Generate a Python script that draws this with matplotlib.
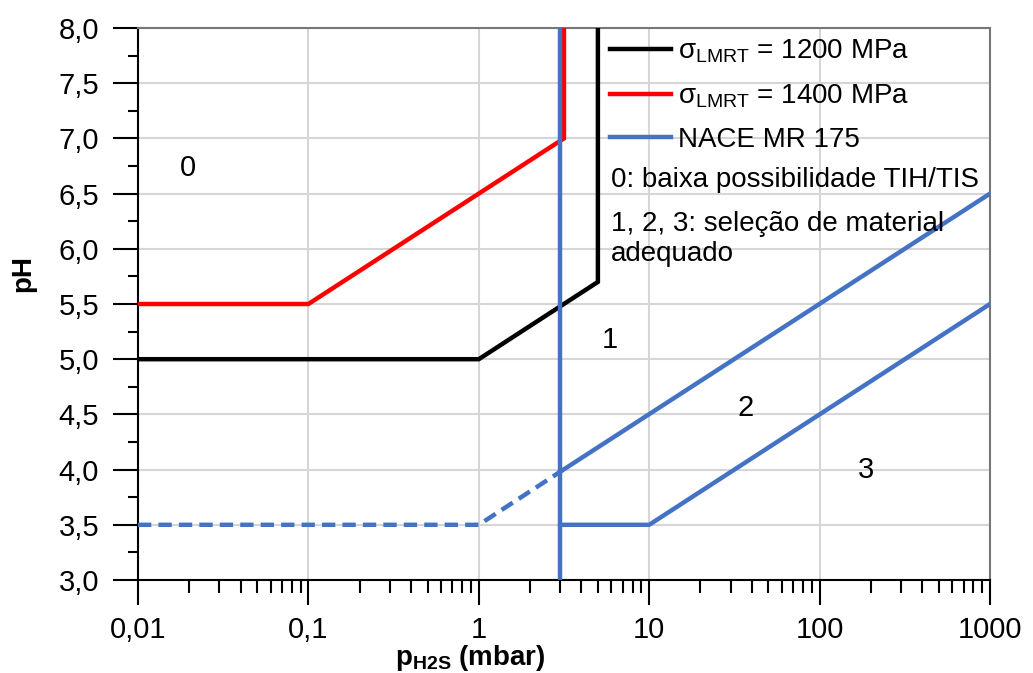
import matplotlib
matplotlib.use("Agg")
import matplotlib.pyplot as plt
from matplotlib.ticker import FixedLocator, LogLocator, NullFormatter, FixedFormatter

plt.rcParams['font.family'] = ['Liberation Sans', 'DejaVu Sans']
plt.rcParams['mathtext.fontset'] = 'custom'
plt.rcParams['mathtext.rm'] = 'Liberation Sans'
plt.rcParams['mathtext.it'] = 'Liberation Sans'
plt.rcParams['mathtext.bf'] = 'Liberation Sans:bold'

# ---- data ----
black_x = [0.01, 1, 5, 5]
black_y = [5.0, 5.0, 5.7, 8.0]
red_x = [0.01, 0.1, 3.16, 3.16]
red_y = [5.5, 5.5, 7.0, 8.0]
nace_vert_x = [3, 3]
nace_vert_y = [3.0, 8.0]
nace_upper_dash_x = [0.01, 1, 3]
nace_upper_dash_y = [3.5, 3.5, 3.98]
nace_upper_x = [3, 1000]
nace_upper_y = [3.98, 6.5]
nace_lower_x = [3, 10, 1000]
nace_lower_y = [3.5, 3.5, 5.5]

region_labels = ["0", "1", "2", "3"]
region_x = [0.0196, 5.9, 36.6, 187]
region_y = [6.73, 5.17, 4.56, 4.0]

xticks = [0.01, 0.1, 1, 10, 100, 1000]
xticklabels = ["0,01", "0,1", "1", "10", "100", "1000"]
yticks = [3.0, 3.5, 4.0, 4.5, 5.0, 5.5, 6.0, 6.5, 7.0, 7.5, 8.0]
yticklabels = ["3,0", "3,5", "4,0", "4,5", "5,0", "5,5", "6,0", "6,5", "7,0", "7,5", "8,0"]
yminor = [3.25, 3.75, 4.25, 4.75, 5.25, 5.75, 6.25, 6.75, 7.25, 7.75]

legend_labels = ["σ$_{\\mathrm{LMRT}}$ = 1200 MPa",
                 "σ$_{\\mathrm{LMRT}}$ = 1400 MPa",
                 "NACE MR 175"]
note_lines = ["0: baixa possibilidade TIH/TIS",
              "1, 2, 3: seleção de material\nadequado"]

BLUE = "#4472C4"
RED = "#FF0000"
LW = 3.2

fig = plt.figure(figsize=(10.33, 6.73), dpi=100)
ax = fig.add_axes([138/1033, 1-580/673, (990-138)/1033, (580-28)/673])
ax.set_xscale('log')
ax.set_xlim(0.01, 1000)
ax.set_ylim(3.0, 8.0)

# grid
for xv in xticks:
    ax.axvline(xv, color="#d6d6d6", lw=1.5, zorder=0)
for yv in yticks:
    ax.axhline(yv, color="#d6d6d6", lw=1.5, zorder=0)

l1, = ax.plot(black_x, black_y, color="black", lw=LW, zorder=3, solid_joinstyle='miter')
l2, = ax.plot(red_x, red_y, color=RED, lw=LW, zorder=3, solid_joinstyle='miter')
l3, = ax.plot(nace_vert_x, nace_vert_y, color=BLUE, lw=LW, zorder=4)
ax.plot(nace_upper_dash_x, nace_upper_dash_y, color=BLUE, lw=LW, dashes=(3.0, 1.6), zorder=3)
ax.plot(nace_upper_x, nace_upper_y, color=BLUE, lw=LW, zorder=3)
ax.plot(nace_lower_x, nace_lower_y, color=BLUE, lw=LW, zorder=3)

for t, xv, yv in zip(region_labels, region_x, region_y):
    ax.text(xv, yv, t, fontsize=21, ha='center', va='center', zorder=5)

leg = ax.legend([l1, l2, l3], legend_labels, loc='upper left',
                bbox_to_anchor=((600-138)/852, 1.0), frameon=False,
                fontsize=20, handlelength=2.2, handletextpad=0.25,
                labelspacing=0.62, borderpad=0.0, borderaxespad=0.35)

ax.text((611-138)/852, (580-180)/552, note_lines[0], transform=ax.transAxes,
        fontsize=20, ha='left', va='center')
ax.text((611-138)/852, (580-211)/552, note_lines[1], transform=ax.transAxes,
        fontsize=20, ha='left', va='top', linespacing=1.22)

# ticks
ax.xaxis.set_major_locator(FixedLocator(xticks))
ax.xaxis.set_major_formatter(FixedFormatter(xticklabels))
ax.xaxis.set_minor_locator(LogLocator(base=10, subs=[2, 3, 4, 5, 6, 7, 8, 9], numticks=20))
ax.xaxis.set_minor_formatter(NullFormatter())
ax.yaxis.set_major_locator(FixedLocator(yticks))
ax.yaxis.set_major_formatter(FixedFormatter(yticklabels))
ax.yaxis.set_minor_locator(FixedLocator(yminor))

ax.tick_params(axis='x', which='major', direction='out', length=18, width=1.5,
               labelsize=21, pad=8, top=False)
ax.tick_params(axis='x', which='minor', direction='out', length=9, width=1.5, top=False)
ax.tick_params(axis='y', which='major', direction='out', length=18, width=1.5,
               labelsize=21, pad=10, right=False)
ax.tick_params(axis='y', which='minor', direction='out', length=7, width=1.5, right=False)

for s in ['left', 'bottom']:
    ax.spines[s].set_color('black')
    ax.spines[s].set_linewidth(1.5)
for s in ['top', 'right']:
    ax.spines[s].set_color('#777777')
    ax.spines[s].set_linewidth(1.5)

ax.set_xlabel("p$_{\\mathbf{H2S}}$ (mbar)", fontsize=20, fontweight='bold')
ax.xaxis.set_label_coords((470-138)/852, -(643-580)/552)
ax.set_ylabel("pH", fontsize=20, fontweight='bold')
ax.yaxis.set_label_coords(-(138-36)/852, (580-273)/552)

fig.savefig("out.png", dpi=100)
